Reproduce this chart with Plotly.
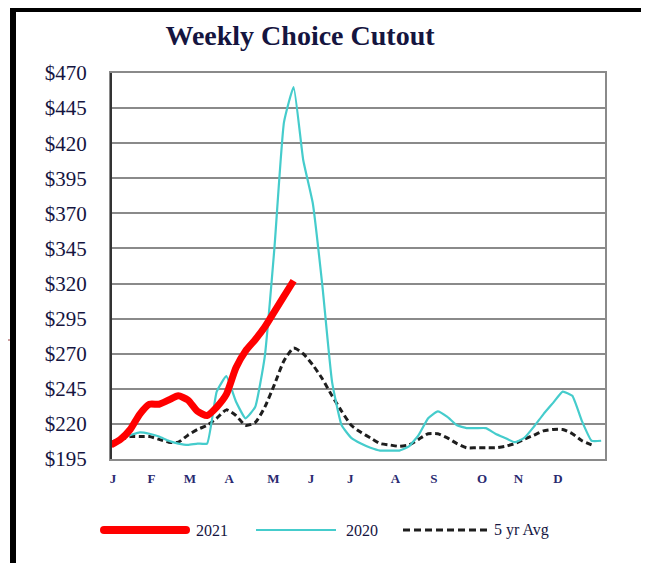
import plotly.graph_objects as go

# ---- data (weekly, week 1 = first week of January) ----
weeks_2021 = list(range(1, 21))
cutout_2021 = [205, 209, 216, 227, 234, 234, 237, 240, 237, 229,
               226, 232, 241, 260, 272, 280, 289, 300, 311, 322]

weeks_2020 = list(range(1, 53))
cutout_2020 = [207, 210, 212, 214, 213, 211, 208, 206, 205, 206,
               206, 243, 254, 236, 224, 232, 268, 345, 435, 460,
               408, 377, 318, 250, 219, 210, 206, 203, 201, 201,
               201, 204, 212, 224, 229, 225, 219, 217, 217, 217,
               213, 210, 207, 210, 218, 227, 235, 243, 240, 222,
               208, 208]

weeks_avg = list(range(1, 52))
cutout_5yr = [207, 209, 211, 211, 211, 209, 207, 207, 212, 216,
              219, 224, 230, 226, 219, 221, 232, 248, 265, 274,
              270, 262, 252, 240, 229, 219, 214, 210, 206, 205,
              204, 205, 209, 213, 213, 210, 206, 203, 203, 203,
              203, 204, 206, 209, 212, 215, 216, 216, 213, 208,
              205]

month_labels = ["J", "F", "M", "A", "M", "J", "J", "A", "S", "O", "N", "D"]
month_weeks = [1.2, 5.2, 9.2, 13.3, 17.9, 21.8, 25.9, 30.6, 34.6, 39.6, 43.4, 47.5]

y_ticks = list(range(195, 471, 25))
y_tick_text = ["$" + str(v) for v in y_ticks]

series_names = ["2021", "2020", "5 yr Avg"]

RED = "#ff0000"
TEAL = "#45cccc"
BLACK = "#1e1e1e"
GRID = "#8a8a8a"
NAVY = "#15153f"
SERIF = "Liberation Serif, Times New Roman, serif"

fig = go.Figure()
fig.add_trace(go.Scatter(x=weeks_avg, y=cutout_5yr, mode="lines", name=series_names[2],
                         line=dict(color=BLACK, width=3, dash="6px,3.5px", shape="spline", smoothing=0.6)))
fig.add_trace(go.Scatter(x=weeks_2020, y=cutout_2020, mode="lines", name=series_names[1],
                         line=dict(color=TEAL, width=2.2, shape="spline", smoothing=0.4)))
fig.add_trace(go.Scatter(x=weeks_2021, y=cutout_2021, mode="lines", name=series_names[0],
                         line=dict(color=RED, width=7, shape="spline", smoothing=0.6)))

# page is offset by the 8px body margin; plot area on the page: x 111..605, y 73..459
OFF = 8
PX0, PX1, PY0, PY1 = 111, 605, 73, 459
W, H = 649 - OFF, 563 - OFF
L, T = PX0 - OFF, PY0 - OFF
R, B = W - (PX1 - OFF), H - (PY1 - OFF)
pw, ph = PX1 - PX0, PY1 - PY0


def px(x):
    return (x - PX0) / pw


def py(y):
    return (PY1 - y) / ph


shapes = [
    # stray rule at left edge
    dict(type="line", xref="paper", yref="paper", x0=px(0), x1=px(11), y0=py(340), y1=py(340),
         line=dict(color="#9a4040", width=1)),
    # outer black frame (top + left)
    dict(type="rect", xref="paper", yref="paper", x0=px(10), x1=px(670), y0=py(12), y1=py(0),
         fillcolor="black", line=dict(width=0)),
    dict(type="rect", xref="paper", yref="paper", x0=px(10), x1=px(16), y0=py(575), y1=py(0),
         fillcolor="black", line=dict(width=0)),
    # darker left axis line
    dict(type="line", xref="paper", yref="paper", x0=0, x1=0, y0=0, y1=1,
         line=dict(color="#333333", width=2)),
    # legend samples
    dict(type="line", xref="paper", yref="paper", x0=px(104), x1=px(186), y0=py(530), y1=py(530),
         line=dict(color=RED, width=8)),
    dict(type="circle", xref="paper", yref="paper", x0=px(100), x1=px(108), y0=py(534), y1=py(526),
         fillcolor=RED, line=dict(width=0)),
    dict(type="circle", xref="paper", yref="paper", x0=px(182), x1=px(190), y0=py(534), y1=py(526),
         fillcolor=RED, line=dict(width=0)),
    dict(type="line", xref="paper", yref="paper", x0=px(256), x1=px(336), y0=py(530), y1=py(530),
         line=dict(color=TEAL, width=2.2)),
    dict(type="line", xref="paper", yref="paper", x0=px(403), x1=px(490), y0=py(530), y1=py(530),
         line=dict(color=BLACK, width=3, dash="7px,4px")),
]

legend_x = [194, 344, 492]
annotations = [
    dict(text=name, xref="paper", yref="paper", x=px(lx), y=py(530), xanchor="left", yanchor="middle",
         showarrow=False, font=dict(family=SERIF, size=16, color=NAVY))
    for name, lx in zip(series_names, legend_x)
]

fig.update_layout(
    width=W, height=H,
    margin=dict(l=L, r=R, t=T, b=B, autoexpand=False),
    paper_bgcolor="white", plot_bgcolor="white",
    showlegend=False,
    title=dict(text="<b>Weekly Choice Cutout</b>", x=(300 - OFF) / W, xanchor="center",
               y=1 - (35 - OFF) / H, yanchor="middle", yref="container",
               font=dict(family=SERIF, size=28, color=NAVY)),
    shapes=shapes,
    annotations=annotations,
    xaxis=dict(range=[1, 52.4], tickmode="array", tickvals=month_weeks, ticktext=month_labels,
               showgrid=False, zeroline=False, showline=True, mirror=True,
               linecolor=GRID, linewidth=2, ticks="outside", ticklen=6,
               tickcolor="rgba(0,0,0,0)",
               tickfont=dict(family=SERIF, size=13, color="#2a2a70", weight="bold")),
    yaxis=dict(range=[195, 470], tickmode="array", tickvals=y_ticks, ticktext=y_tick_text,
               showgrid=True, gridcolor=GRID, gridwidth=2, zeroline=False,
               showline=True, mirror=True, linecolor=GRID, linewidth=2,
               ticks="outside", ticklen=18, tickcolor="rgba(0,0,0,0)",
               tickfont=dict(family=SERIF, size=21, color=NAVY)),
)

fig.write_html("out.html")
